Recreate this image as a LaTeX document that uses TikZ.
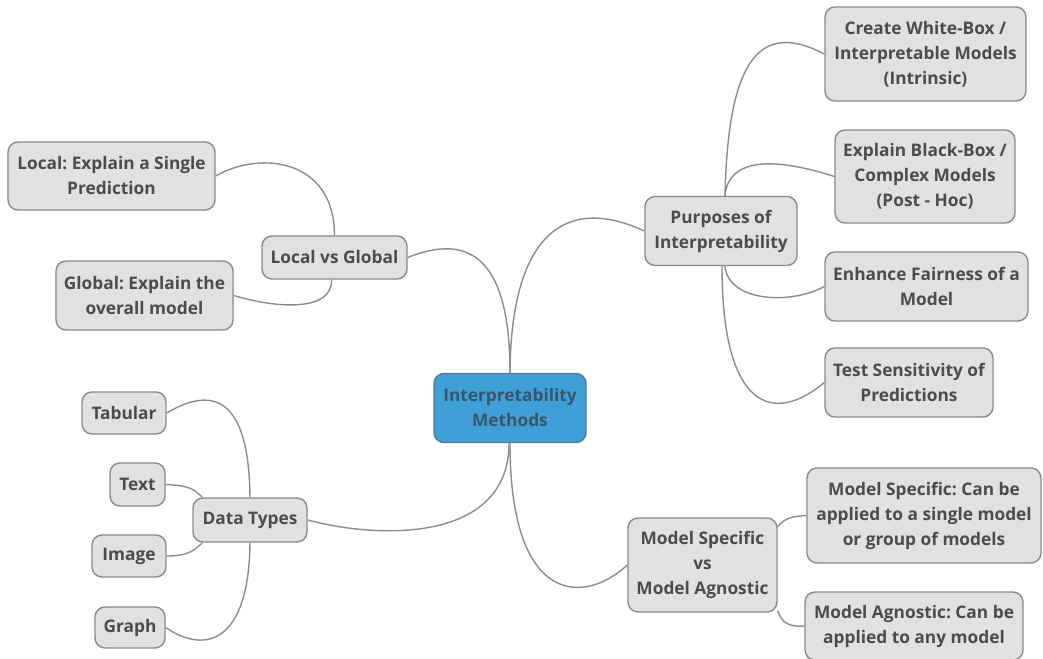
\documentclass[tikz,border=0pt]{standalone}
\usepackage{fontspec}
\IfFontExistsTF{Open Sans Bold}
  {\setmainfont{Open Sans}[BoldFont={Open Sans Bold}]}
  {\IfFontExistsTF{OpenSans-Bold}
     {\setmainfont{Open Sans}[BoldFont={OpenSans-Bold}]}
     {\setmainfont{Noto Sans}[AutoFakeBold=2.5]}}
\frenchspacing
\definecolor{boxfill}{HTML}{E1E1E1}
\definecolor{boxline}{HTML}{8A8A8A}
\definecolor{txt}{HTML}{4C4C4C}
\definecolor{cenfill}{HTML}{3FA0D8}
\definecolor{cenline}{HTML}{557A90}
\definecolor{centxt}{HTML}{37566A}
\definecolor{conncol}{HTML}{8C8C8C}
\tikzset{
  topic/.style={draw=boxline, fill=boxfill, line width=1.4pt, rounded corners=10pt,
    align=center, inner sep=0pt, text=txt,
    font=\fontsize{17.3}{25}\selectfont\bfseries},
  central/.style={topic, fill=cenfill, draw=cenline, text=centxt},
  conn/.style={draw=conncol, line width=1.4pt}
}
\begin{document}
\begin{tikzpicture}[x=1pt,y=-1pt]
\useasboundingbox (0,0) rectangle (1043,658);
\fill[white] (0,0) rectangle (1043,658);
% nodes
\node[central, minimum width=152, minimum height=69] (cen) at (510,408) {Interpretability\\Methods};
\node[topic, minimum width=207, minimum height=68] (local) at (111.5,176) {Local: Explain a Single\\Prediction};
\node[topic, minimum width=145, minimum height=43] (lvg) at (334.5,257.5) {Local vs Global};
\node[topic, minimum width=177, minimum height=69] (global) at (144.5,295.5) {Global: Explain the\\overall model};
\node[topic, minimum width=152, minimum height=69] (pur) at (721,231) {Purposes of\\Interpretability};
\node[topic, minimum width=201, minimum height=94] (create) at (925.5,54) {Create White-Box /\\Interpretable Models\\(Intrinsic)};
\node[topic, minimum width=180, minimum height=93] (explain) at (925,176.5) {Explain Black-Box /\\Complex Models\\(Post - Hoc)};
\node[topic, minimum width=203, minimum height=69] (enhance) at (926.5,286.5) {Enhance Fairness of a\\Model};
\node[topic, minimum width=168, minimum height=69] (test) at (909,382.5) {Test Sensitivity of\\Predictions};
\node[topic, minimum width=84, minimum height=42] (tab) at (124,413) {Tabular};
\node[topic, minimum width=55, minimum height=43] (text) at (137.5,484.5) {Text};
\node[topic, minimum width=114, minimum height=44] (dt) at (250,520) {Data Types};
\node[topic, minimum width=74, minimum height=42] (image) at (129,556) {Image};
\node[topic, minimum width=70, minimum height=41] (graph) at (130,627.5) {Graph};
\node[topic, minimum width=149, minimum height=94] (ms) at (702.5,565) {Model Specific\\vs\\Model Agnostic};
\node[topic, minimum width=234, minimum height=95] (mspec) at (924,515.5) {Model Specific: Can be\\applied to a single model\\or group of models};
\node[topic, minimum width=218, minimum height=68] (magn) at (914,626) {Model Agnostic: Can be\\applied to any model};
% connectors
\draw[conn] (cen.north) .. controls +(0,-124) and +(55,-22) .. (lvg.east);
\draw[conn] (cen.north) .. controls +(1,-144) and +(-75,-35) .. (pur.west);
\draw[conn] ([xshift=-1pt]cen.south) .. controls +(0,98) and +(75,20) .. (dt.east);
\draw[conn] (cen.south) .. controls +(0,163) and +(-43,40) .. (ms.west);
\draw[conn] (lvg.north) .. controls +(0,-76) and +(45,-26) .. (local.east);
\draw[conn] ([xshift=-3pt]lvg.south) .. controls +(1,31) and +(47,14) .. (global.east);
\draw[conn] ([xshift=4pt]pur.north) .. controls +(3,-136) and +(-65,-34) .. (create.west);
\draw[conn] ([xshift=4pt]pur.north) .. controls +(3,-36) and +(-65,-21) .. (explain.west);
\draw[conn] ([xshift=4pt]pur.south) .. controls +(3,35) and +(-35,19) .. (enhance.west);
\draw[conn] ([xshift=1pt]pur.south) .. controls +(0,145) and +(-50,42) .. (test.west);
\draw[conn] (dt.north) .. controls +(-1,-99) and +(47,-28) .. (tab.east);
\draw[conn] ([xshift=10pt]dt.north west) .. controls +(-10,-11) and +(17,1) .. (text.east);
\draw[conn] ([xshift=10pt]dt.south west) .. controls +(-10,11) and +(15,0) .. (image.east);
\draw[conn] (dt.south) .. controls +(-1,98) and +(41,28) .. (graph.east);
\draw[conn] ([yshift=-9pt]ms.north east) .. controls +(9,-10) and +(-11,1) .. (mspec.west);
\draw[conn] ([yshift=2pt]ms.south east) .. controls +(4,13) and +(-14,1) .. (magn.west);
\end{tikzpicture}
\end{document}
